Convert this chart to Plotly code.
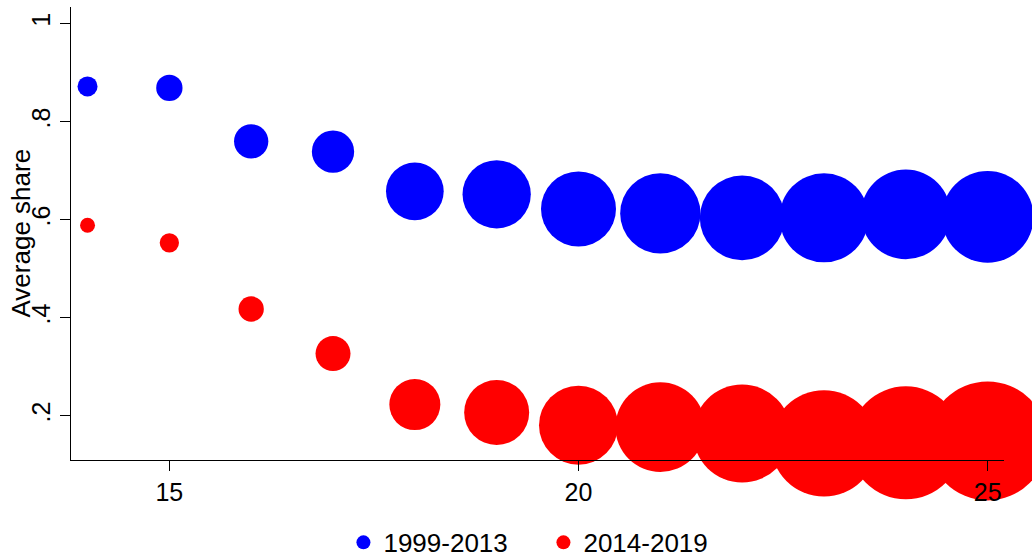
import plotly.graph_objects as go

# Age (x), average share and number of observations per period
ages = [14, 15, 16, 17, 18, 19, 20, 21, 22, 23, 24, 25]

share_1999_2013 = [0.872, 0.869, 0.760, 0.739, 0.658, 0.652, 0.622, 0.613, 0.604, 0.604, 0.611, 0.606]
share_2014_2019 = [0.589, 0.553, 0.418, 0.327, 0.223, 0.207, 0.181, 0.177, 0.164, 0.144, 0.145, 0.149]

obs_1999_2013 = [100, 173, 294, 447, 832, 1166, 1406, 1612, 1793, 1980, 2011, 2102]
obs_2014_2019 = [56, 93, 160, 306, 650, 1056, 1560, 2012, 2401, 2825, 3192, 3540]

period_labels = ["1999-2013", "2014-2019"]
x_ticks = [15, 20, 25]
y_ticks = [0.2, 0.4, 0.6, 0.8, 1.0]
y_tick_text = [".2", ".4", ".6", ".8", "1"]

FONT = "Liberation Sans, Arial, Helvetica, sans-serif"
BLUE = "#0000FF"
RED = "#FF0000"

# bubble area proportional to observations; largest bubble ~119 px across
max_obs = max(obs_1999_2013 + obs_2014_2019)
sizeref = 2.0 * max_obs / (119.0 ** 2)

fig = go.Figure()

for share, obs, color in [(share_1999_2013, obs_1999_2013, BLUE),
                          (share_2014_2019, obs_2014_2019, RED)]:
    fig.add_trace(go.Scatter(
        x=ages, y=share, mode="markers",
        marker=dict(size=obs, sizemode="area", sizeref=sizeref,
                    color=color, opacity=1, line=dict(width=0)),
        cliponaxis=False, showlegend=False, hoverinfo="x+y",
    ))

# legend entries with a fixed symbol size
for label, color in zip(period_labels, [BLUE, RED]):
    fig.add_trace(go.Scatter(
        x=[None], y=[None], mode="markers", name=label,
        marker=dict(size=14, color=color),
    ))

fig.update_layout(
    width=1032, height=558,
    margin=dict(l=71, r=28, t=7, b=98, autoexpand=False),
    paper_bgcolor="white", plot_bgcolor="white",
    font=dict(family=FONT, size=25, color="black"),
    showlegend=True,
    legend=dict(
        orientation="h", x=0.292, xanchor="left",
        y=-0.182, yanchor="middle",
        font=dict(size=26), entrywidth=155, entrywidthmode="pixels",
        bgcolor="rgba(0,0,0,0)", itemclick=False,
    ),
    annotations=[dict(
        text="Average share", textangle=-90,
        xref="paper", yref="paper", x=0, y=0.5,
        xshift=-51, xanchor="center", yanchor="middle",
        showarrow=False, font=dict(size=26),
    )],
)

fig.update_xaxes(
    range=[13.798, 25.2], tickvals=x_ticks,
    showline=True, linecolor="black", linewidth=1,
    ticks="outside", ticklen=10, tickwidth=1, tickcolor="black",
    showgrid=False, zeroline=False,
)
fig.update_yaxes(
    range=[0.110, 1.034], tickvals=y_ticks, ticktext=y_tick_text,
    tickangle=-90,
    showline=True, linecolor="black", linewidth=1,
    ticks="outside", ticklen=10, tickwidth=1, tickcolor="black",
    showgrid=False, zeroline=False,
)

fig.write_html("out.html")
